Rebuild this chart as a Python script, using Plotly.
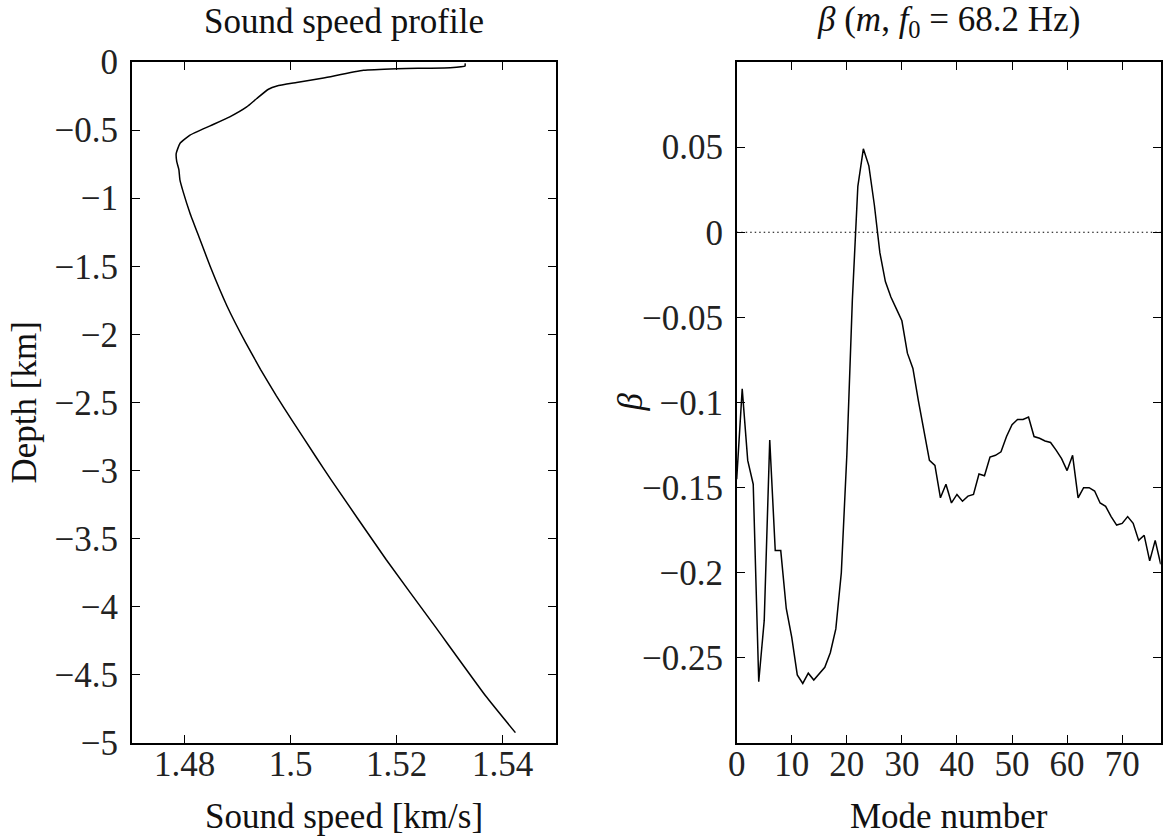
import plotly.graph_objects as go
from plotly.subplots import make_subplots

# ---- Data: sound speed profile ----
depth_km = [-0.01, -0.03, -0.042, -0.049, -0.061, -0.118, -0.151, -0.176, -0.2, -0.268,
            -0.33, -0.403, -0.469, -0.537, -0.598, -0.671, -0.732, -0.79, -0.866, -0.952,
            -1.11, -1.305, -1.50, -1.793, -2.061, -2.256, -2.451, -2.622, -2.902, -3.066,
            -3.653, -4.142, -4.655, -4.924]
speed_kms = [1.5329, 1.5329, 1.5301, 1.5200, 1.5137, 1.5062, 1.5011, 1.4974, 1.4958, 1.4936,
             1.4917, 1.4885, 1.4848, 1.4810, 1.4791, 1.4784, 1.4785, 1.4789, 1.4791, 1.4797,
             1.4810, 1.4829, 1.4848, 1.4880, 1.4915, 1.4943, 1.4973, 1.5001, 1.5048, 1.5076,
             1.5180, 1.5272, 1.5368, 1.5424]

# ---- Data: beta(m) ----
mode_number = list(range(0, 78))
beta = [-0.145, -0.092, -0.134, -0.148, -0.264, -0.228, -0.122, -0.187, -0.187, -0.221,
        -0.238, -0.260, -0.265, -0.259, -0.263, -0.259, -0.2555, -0.247, -0.233, -0.200,
        -0.131, -0.040, 0.027, 0.049, 0.039, 0.016, -0.012, -0.029, -0.038, -0.045,
        -0.052, -0.071, -0.080, -0.099, -0.117, -0.134, -0.137, -0.156, -0.148, -0.159,
        -0.154, -0.158, -0.155, -0.154, -0.142, -0.143, -0.132, -0.131, -0.129, -0.120,
        -0.113, -0.110, -0.110, -0.1085, -0.120, -0.121, -0.1226, -0.1235, -0.128, -0.133,
        -0.140, -0.131, -0.156, -0.150, -0.150, -0.152, -0.159, -0.161, -0.167, -0.172,
        -0.171, -0.167, -0.171, -0.181, -0.178, -0.193, -0.181, -0.195]

# ---- Tick labels ----
speed_ticks = [1.48, 1.50, 1.52, 1.54]
speed_ticktext = ["1.48", "1.5", "1.52", "1.54"]
depth_ticks = [0, -0.5, -1, -1.5, -2, -2.5, -3, -3.5, -4, -4.5, -5]
depth_ticktext = ["0", "\u22120.5", "\u22121", "\u22121.5", "\u22122", "\u22122.5",
                  "\u22123", "\u22123.5", "\u22124", "\u22124.5", "\u22125"]
mode_ticks = [0, 10, 20, 30, 40, 50, 60, 70]
beta_ticks = [0.05, 0, -0.05, -0.1, -0.15, -0.2, -0.25]
beta_ticktext = ["0.05", "0", "\u22120.05", "\u22120.1", "\u22120.15", "\u22120.2", "\u22120.25"]

FONT = "Liberation Serif"
FS = 35
W, H = 1172, 838
TOP, BOT = 62, 743

fig = make_subplots(rows=1, cols=2)

fig.add_trace(go.Scatter(x=speed_kms, y=depth_km, mode="lines",
                         line=dict(color="black", width=1.5, shape="spline", smoothing=0.4),
                         showlegend=False), row=1, col=1)
fig.add_trace(go.Scatter(x=mode_number, y=beta, mode="lines",
                         line=dict(color="black", width=1.5), showlegend=False), row=1, col=2)
fig.add_hline(y=0, line=dict(color="black", width=1.2, dash="1.5px,3px"), row=1, col=2)

axis_common = dict(showline=True, linecolor="black", linewidth=1.6, mirror="ticks",
                   ticks="inside", ticklen=8, tickwidth=1, tickcolor="black",
                   showgrid=False, zeroline=False, automargin=False,
                   tickfont=dict(family=FONT, size=FS, color="#222"))

fig.update_xaxes(axis_common)
fig.update_yaxes(axis_common)

fig.update_xaxes(domain=[131.7 / W, 555.7 / W], range=[1.47, 1.55],
                 tickvals=speed_ticks, ticktext=speed_ticktext,
                 ticklabelstandoff=-11, row=1, col=1)
fig.update_yaxes(range=[-5, 0], tickvals=depth_ticks, ticktext=depth_ticktext,
                 ticklabelstandoff=5, row=1, col=1)
fig.update_xaxes(domain=[736.7 / W, 1160.7 / W], range=[0, 77],
                 tickvals=mode_ticks, ticklabelstandoff=-11, row=1, col=2)
fig.update_yaxes(range=[-0.3, 0.1], tickvals=beta_ticks, ticktext=beta_ticktext,
                 ticklabelstandoff=5, row=1, col=2)


def py(p):
    return (BOT - p) / (BOT - TOP)


txt = dict(family=FONT, size=FS, color="#111")
annots = [
    dict(text="Sound speed profile", x=343.7 / W, y=py(22)),
    dict(text="<i>\u03b2</i> (<i>m</i>, <i>f</i><sub>0</sub> = 68.2 Hz)", x=948.7 / W, y=py(22)),
    dict(text="Sound speed [km/s]", x=343.7 / W, y=py(816)),
    dict(text="Mode number", x=948.7 / W, y=py(816)),
    dict(text="Depth [km]", x=24 / W, y=py(402.5), textangle=-90),
    dict(text="<i>\u03b2</i>", x=630 / W, y=py(402.5), textangle=-90),
]
for a in annots:
    fig.add_annotation(xref="paper", yref="paper", showarrow=False,
                       xanchor="center", yanchor="middle", font=txt, **a)

fig.update_layout(width=W, height=H, margin=dict(l=0, r=0, t=TOP, b=H - BOT),
                  paper_bgcolor="white", plot_bgcolor="white", showlegend=False)

fig.write_html("out.html")
